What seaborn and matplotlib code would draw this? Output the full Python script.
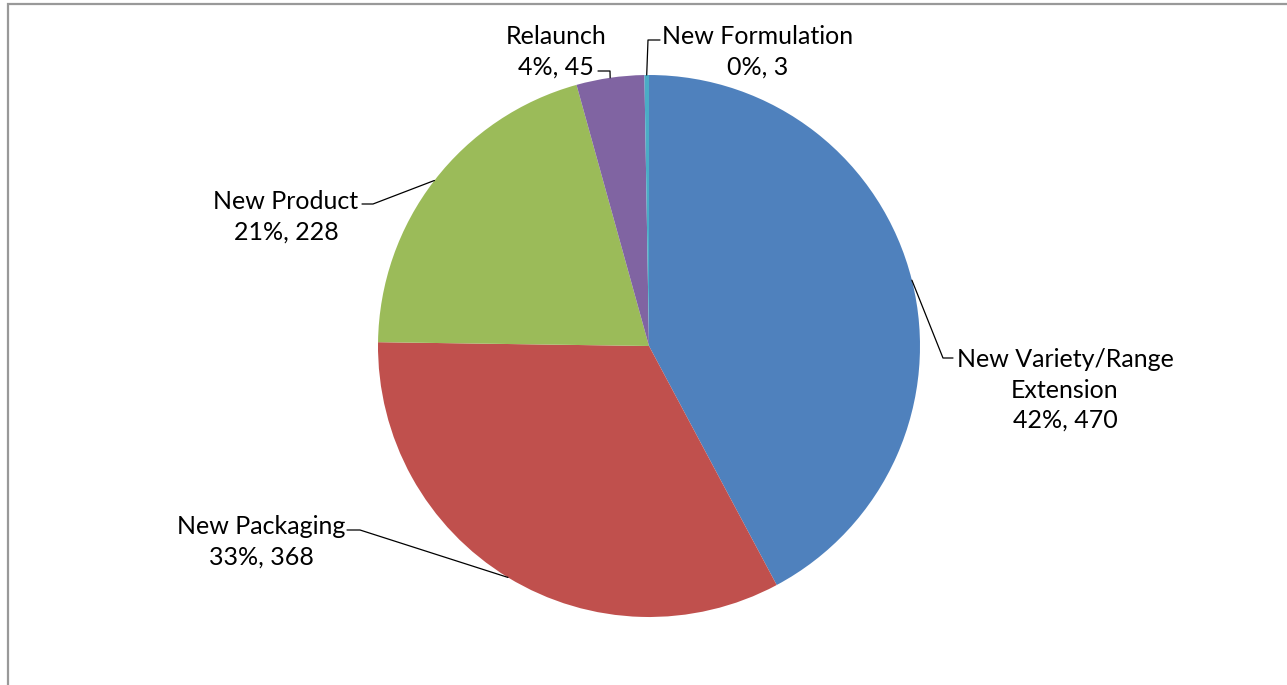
import numpy as np
import matplotlib
matplotlib.use("Agg")
from matplotlib import pyplot as plt
from matplotlib.patches import Rectangle
import seaborn as sns

sns.set_theme(style="white")
plt.rcParams['font.family'] = ['Lato', 'DejaVu Sans']

categories = ["New Variety/Range\nExtension", "New Packaging", "New Product", "Relaunch", "New Formulation"]
counts = [470, 368, 228, 45, 3]
pct_labels = [42, 33, 21, 4, 0]
colors = ["#4F81BD", "#C0504D", "#9BBB59", "#8064A2", "#4BACC6"]

W, H = 1287, 685
CX, CY, R = 649, 346, 271


def px(x, y):
    return (x - CX) / R, (CY - y) / R


# label text centre, elbow, end of horizontal tick (pixels)
label_layout = [
    ((1065, 390), (943, 358), (953, 358)),
    ((261, 542), (360, 530), (347, 530)),
    ((286, 217), (373, 204), (362, 204)),
    ((556, 52), (610, 71), (598, 71)),
    ((758, 52), (648, 40), (660, 40)),
]

fig = plt.figure(figsize=(W / 100, H / 100), dpi=100)
ax = fig.add_axes([0, 0, 1, 1])

ax.pie(counts, colors=colors, startangle=90, counterclock=False, radius=1,
       wedgeprops=dict(linewidth=0))
ax.set_xlim(-CX / R, (W - CX) / R)
ax.set_ylim(-(H - CY) / R, CY / R)
ax.set_aspect("equal")
ax.axis("off")

total = sum(counts)
cum = np.cumsum([0] + counts[:-1])
for name, n, p, c0, (tpos, elbow, tick) in zip(categories, counts, pct_labels, cum, label_layout):
    ang = np.deg2rad(90 - 360 * (c0 + n / 2) / total)
    start = (np.cos(ang), np.sin(ang))
    e = px(*elbow)
    t = px(*tick)
    ax.plot([start[0], e[0], t[0]], [start[1], e[1], t[1]], color="black", lw=0.9,
            clip_on=False, zorder=3)
    tx, ty = px(*tpos)
    ax.text(tx, ty, f"{name}\n{p}%, {n}", ha="center", va="center",
            multialignment="center", fontsize=18, color="black", linespacing=1.38)

fig.patches.append(Rectangle((8 / W, -0.1), 1.2, 1.1 - 4 / H, transform=fig.transFigure,
                             fill=False, edgecolor="#999999", lw=1.6, zorder=10))

plt.savefig("out.png", dpi=100, facecolor="white")
